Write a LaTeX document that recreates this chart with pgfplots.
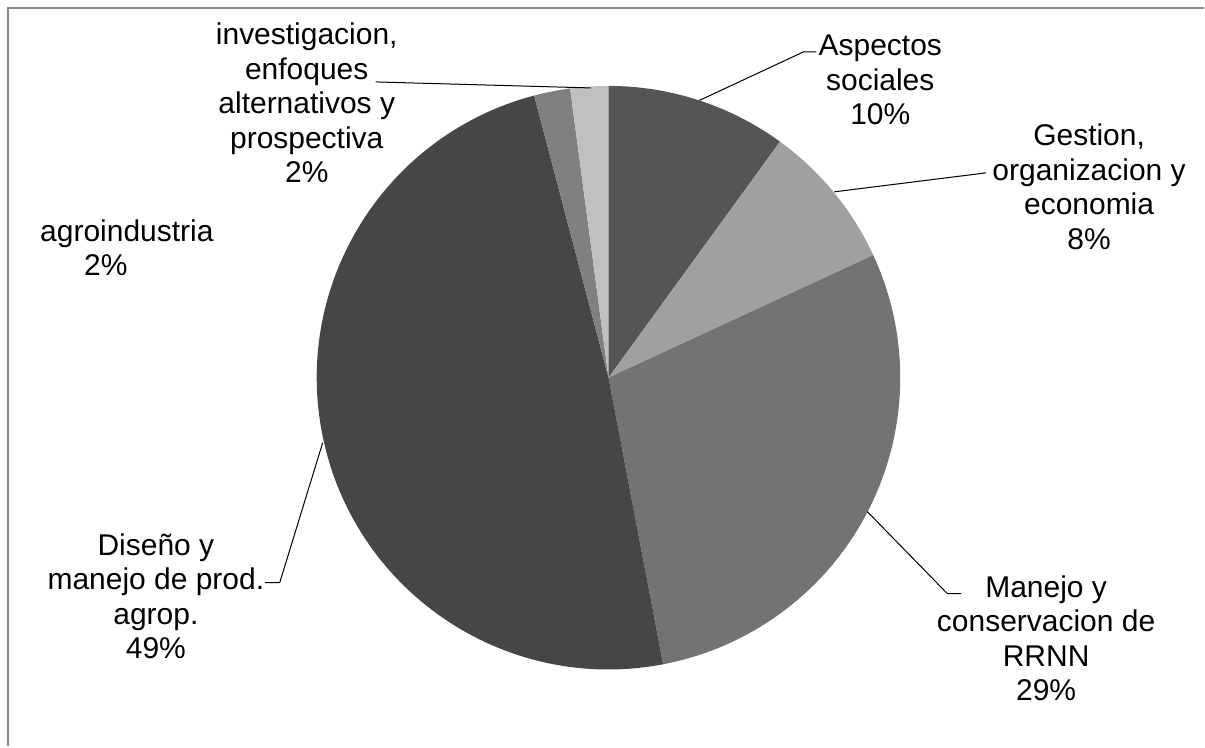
\documentclass[border=0pt]{standalone}
\usepackage{fontspec}
\setmainfont{Liberation Sans}
\usepackage{pgfplots}
\usepackage{pgfplotstable}
\pgfplotsset{compat=1.18}

\definecolor{s0}{HTML}{555555}
\definecolor{s1}{HTML}{A0A0A0}
\definecolor{s2}{HTML}{737373}
\definecolor{s3}{HTML}{464646}
\definecolor{s4}{HTML}{808080}
\definecolor{s5}{HTML}{C0C0C0}
\definecolor{frame}{HTML}{8A8A8A}

% shares in percent, clockwise from 12 o'clock
\pgfplotstableread{
idx value
0 10.0
1 8.1
2 28.9
3 48.9
4 2.0
5 2.1
}\piedata

\def\cum{0}
\pgfplotsforeachungrouped \i in {0,...,5}{%
  \pgfplotstablegetelem{\i}{value}\of\piedata
  \pgfmathsetmacro\a{90-3.6*\cum}%
  \pgfmathsetmacro\cum{\cum+\pgfplotsretval}%
  \pgfmathsetmacro\b{90-3.6*\cum}%
  \expandafter\xdef\csname sa\i\endcsname{\a}%
  \expandafter\xdef\csname sb\i\endcsname{\b}%
}

\newcommand\slice[1]{%
  \fill[s#1] (axis cs:609,378) -- ++(\csname sa#1\endcsname:146pt)
    arc[start angle=\csname sa#1\endcsname, end angle=\csname sb#1\endcsname, radius=146pt] -- cycle;}

\begin{document}
\begin{tikzpicture}
\begin{axis}[
  scale only axis,
  width=602.5pt, height=373.5pt,
  xmin=0, xmax=1205, ymin=0, ymax=747,
  y dir=reverse,
  hide axis,
  clip=false,
]
% keep the whole axis area as the picture
\path (axis cs:0,0) rectangle (axis cs:1205,747);

\slice{0}\slice{1}\slice{2}\slice{3}\slice{4}\slice{5}

% frame (only left and top edges are inside the picture)
\draw[frame, line width=1pt] (axis cs:8.5,747) -- (axis cs:8.5,8.5) -- (axis cs:1205,8.5);

% leader lines
\draw[black, line width=0.5pt] (axis cs:700,100.5) -- (axis cs:804,52) -- (axis cs:817,52);
\draw[black, line width=0.5pt] (axis cs:835,192) -- (axis cs:987,173);
\draw[black, line width=0.5pt] (axis cs:868,512) -- (axis cs:948,594) -- (axis cs:962,594);
\draw[black, line width=0.5pt] (axis cs:323,443) -- (axis cs:280,583) -- (axis cs:265,583);
\draw[black, line width=0.5pt] (axis cs:376,82) -- (axis cs:591,88);

\tikzset{lab/.style={align=center, inner sep=0pt, anchor=center,
  font=\fontsize{15}{17.25}\selectfont}}
\node[lab] at (axis cs:881,80) {Aspectos\\sociales\\10\%};
\node[lab] at (axis cs:1090,187) {Gestion,\\organizacion y\\economia\\8\%};
\node[lab] at (axis cs:1047,639) {Manejo y\\conservacion de\\RRNN\\29\%};
\node[lab] at (axis cs:156,597) {Diseño y\\manejo de prod.\\agrop.\\49\%};
\node[lab] at (axis cs:127,248) {agroindustria\\2\%\hspace*{21pt}};
\node[lab] at (axis cs:307,103) {investigacion,\\enfoques\\alternativos y\\prospectiva\\2\%};
\end{axis}
\end{tikzpicture}
\end{document}
